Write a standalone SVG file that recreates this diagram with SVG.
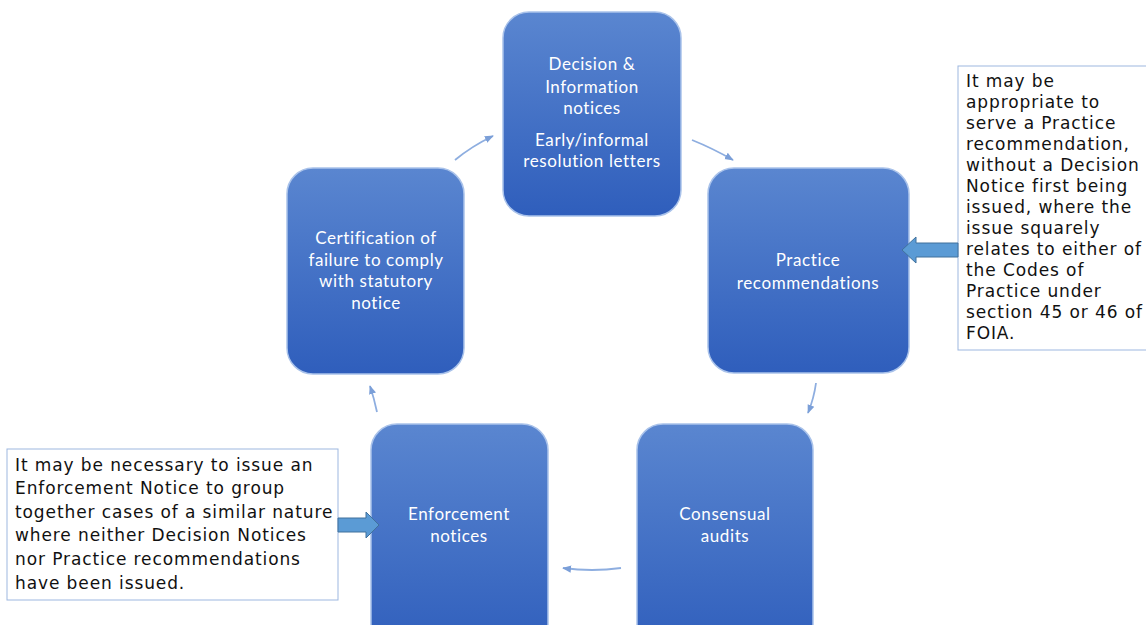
<svg xmlns="http://www.w3.org/2000/svg" width="1146" height="625" viewBox="0 0 1146 625">
<defs>
<linearGradient id="ng" x1="0" y1="0" x2="0" y2="1">
<stop offset="0" stop-color="#5a86d0"/>
<stop offset="1" stop-color="#2f5ebc"/>
</linearGradient>
<marker id="ah" viewBox="0 0 10 10" refX="9" refY="5" markerWidth="5" markerHeight="5" orient="auto">
<path d="M0,1 L10,5 L0,9 Z" fill="#7b9fd8"/>
</marker>
<style>
.node rect{fill:url(#ng);stroke:#a9c2ea;stroke-width:1.5}
.nt{font-family:Lato,"Open Sans",sans-serif;font-size:17px;letter-spacing:0.6px;fill:#ffffff;text-anchor:middle}
.conn path{fill:none;stroke:#8eaee0;stroke-width:1.8;marker-end:url(#ah)}
.callout rect{fill:#ffffff;stroke:#9db7e0;stroke-width:1}
.ct{font-family:"DejaVu Sans",Verdana,sans-serif;font-size:17px;letter-spacing:0.9px;fill:#111111}
.barrow{fill:#5b9bd5;stroke:#41719c;stroke-width:1}
</style>
</defs>
<rect width="1146" height="625" fill="#ffffff"/>

<g class="conn">
<path d="M455,160 Q472,146 493,136"/>
<path d="M692,140 Q712,148 733,160"/>
<path d="M816,383 Q814,398 808,413"/>
<path d="M621,568 Q592,572 563,568"/>
<path d="M377,412 Q374,398 370,386"/>
</g>

<g id="node-decision" class="node">
<rect x="503" y="12" width="178" height="204" rx="26"/>
<text class="nt" x="592" y="70">Decision &amp;</text>
<text class="nt" x="592" y="93">Information</text>
<text class="nt" x="592" y="114">notices</text>
<text class="nt" x="592" y="146">Early/informal</text>
<text class="nt" x="592" y="167">resolution letters</text>
</g>

<g id="node-practice" class="node">
<rect x="708" y="168" width="201" height="205" rx="26"/>
<text class="nt" x="808" y="266">Practice</text>
<text class="nt" x="808" y="289">recommendations</text>
</g>

<g id="node-certification" class="node">
<rect x="287" y="168" width="177" height="206" rx="26"/>
<text class="nt" x="376" y="244">Certification of</text>
<text class="nt" x="376" y="266">failure to comply</text>
<text class="nt" x="376" y="287">with statutory</text>
<text class="nt" x="376" y="309">notice</text>
</g>

<g id="node-enforcement" class="node">
<rect x="371" y="424" width="177" height="230" rx="26"/>
<text class="nt" x="459" y="520">Enforcement</text>
<text class="nt" x="459" y="542">notices</text>
</g>

<g id="node-consensual" class="node">
<rect x="637" y="424" width="176" height="230" rx="26"/>
<text class="nt" x="725" y="520">Consensual</text>
<text class="nt" x="725" y="542">audits</text>
</g>

<g id="callout-right" class="callout">
<rect x="958" y="66" width="195" height="284"/>
<text class="ct" x="966" y="87">It may be</text>
<text class="ct" x="966" y="108">appropriate to</text>
<text class="ct" x="966" y="129">serve a Practice</text>
<text class="ct" x="966" y="150">recommendation,</text>
<text class="ct" x="966" y="171">without a Decision</text>
<text class="ct" x="966" y="192">Notice first being</text>
<text class="ct" x="966" y="213">issued, where the</text>
<text class="ct" x="966" y="234">issue squarely</text>
<text class="ct" x="966" y="255">relates to either of</text>
<text class="ct" x="966" y="276">the Codes of</text>
<text class="ct" x="966" y="297">Practice under</text>
<text class="ct" x="966" y="318">section 45 or 46 of</text>
<text class="ct" x="966" y="339">FOIA.</text>
</g>
<g id="arrow-right">
<path class="barrow" d="M958,243 L916,243 L916,237 L902,250 L916,263 L916,257 L958,257 Z"/>
</g>

<g id="callout-left" class="callout">
<rect x="7" y="449" width="331" height="151"/>
<text class="ct" x="15" y="471">It may be necessary to issue an</text>
<text class="ct" x="15" y="494">Enforcement Notice to group</text>
<text class="ct" x="15" y="518">together cases of a similar nature</text>
<text class="ct" x="15" y="541">where neither Decision Notices</text>
<text class="ct" x="15" y="565">nor Practice recommendations</text>
<text class="ct" x="15" y="589">have been issued.</text>
</g>
<g id="arrow-left">
<path class="barrow" d="M338,518 L366,518 L366,512 L379,525 L366,538 L366,532 L338,532 Z"/>
</g>
</svg>
